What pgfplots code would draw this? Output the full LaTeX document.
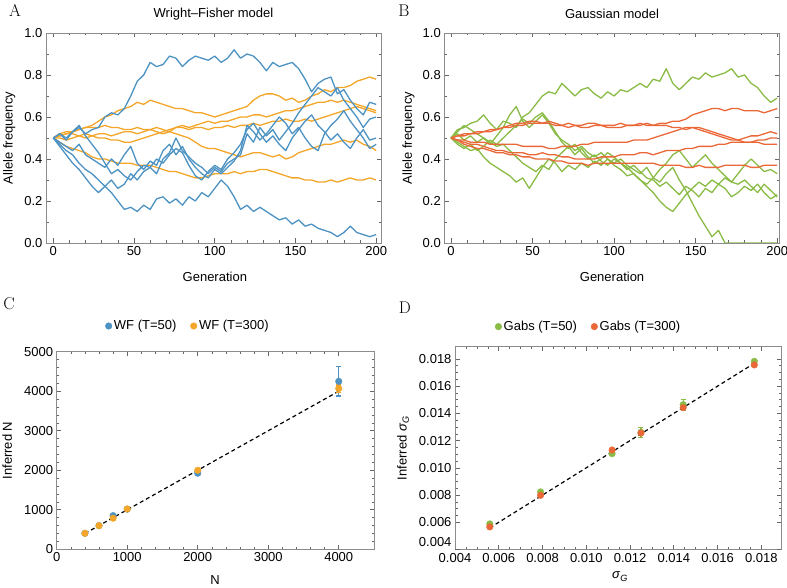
\documentclass[border=0pt]{standalone}
\usepackage{pgfplots}
\pgfplotsset{compat=1.18}
\usepackage{pgfplotstable}
\usepackage{fontspec}
\setsansfont{Liberation Sans}
\definecolor{cblue}{RGB}{76,146,194}
\definecolor{corange}{RGB}{243,166,41}
\definecolor{cgreen}{RGB}{137,187,69}
\definecolor{cred}{RGB}{234,104,56}
\newcommand{\lbl}{\sffamily\fontsize{13}{15}\selectfont}
\newcommand{\sig}{\textit{σ}\textsubscript{\textit{G}}}

\pgfplotstableread{
g b1 b2 b3 b4 b5 o1 o2 o3 o4 o5
0 .50 .50 .50 .50 .50 .50 .50 .50 .50 .50
4 .52 .47 .46 .48 .52 .51 .52 .51 .50 .48
8 .50 .44 .42 .46 .49 .52 .53 .52 .49 .46
12 .53 .42 .38 .44 .53 .53 .53 .52 .50 .45
16 .55 .38 .35 .47 .56 .54 .54 .51 .51 .44
20 .52 .35 .31 .42 .51 .55 .55 .52 .50 .43
24 .54 .33 .27 .40 .47 .56 .55 .51 .51 .41
28 .55 .30 .24 .38 .43 .58 .55 .50 .52 .40
32 .60 .27 .27 .36 .38 .60 .56 .50 .52 .40
36 .62 .24 .30 .40 .33 .61 .55 .49 .51 .39
40 .61 .20 .26 .37 .35 .63 .55 .49 .52 .38
44 .64 .16 .28 .42 .32 .64 .54 .48 .53 .38
48 .70 .17 .33 .46 .30 .65 .54 .48 .53 .38
52 .77 .15 .30 .38 .34 .67 .55 .49 .52 .37
56 .80 .18 .34 .35 .37 .66 .54 .50 .53 .37
60 .86 .16 .36 .39 .36 .68 .54 .51 .54 .37
64 .84 .21 .33 .37 .40 .67 .55 .52 .53 .36
68 .85 .22 .40 .44 .38 .66 .54 .53 .52 .35
72 .89 .19 .43 .47 .42 .65 .53 .54 .53 .34
76 .88 .21 .50 .42 .45 .64 .55 .55 .52 .34
80 .84 .18 .44 .46 .43 .64 .56 .55 .51 .33
84 .87 .22 .41 .40 .37 .63 .55 .54 .50 .32
88 .89 .20 .38 .36 .32 .62 .56 .55 .48 .31
92 .88 .24 .36 .33 .30 .62 .57 .55 .46 .31
96 .87 .22 .33 .31 .34 .61 .58 .54 .45 .32
100 .89 .26 .36 .35 .37 .60 .57 .55 .45 .33
104 .86 .30 .34 .33 .35 .61 .58 .55 .44 .33
108 .88 .27 .38 .36 .40 .62 .58 .56 .43 .33
112 .92 .22 .40 .39 .43 .63 .59 .55 .42 .34
116 .88 .16 .42 .44 .47 .64 .60 .56 .41 .33
120 .90 .18 .52 .56 .54 .65 .60 .56 .42 .34
124 .89 .15 .48 .53 .57 .68 .61 .57 .43 .34
128 .86 .17 .55 .49 .52 .70 .61 .56 .43 .35
132 .82 .15 .51 .52 .48 .71 .60 .57 .42 .35
136 .86 .13 .54 .56 .51 .71 .61 .58 .41 .34
140 .84 .11 .49 .60 .47 .70 .62 .58 .42 .33
144 .85 .12 .53 .57 .44 .68 .63 .59 .40 .32
148 .86 .09 .57 .52 .50 .69 .63 .58 .41 .31
152 .83 .11 .62 .55 .54 .67 .64 .58 .43 .31
156 .78 .08 .66 .50 .58 .68 .65 .59 .44 .30
160 .72 .09 .70 .46 .61 .70 .66 .58 .45 .30
164 .76 .07 .74 .44 .56 .71 .67 .59 .46 .29
168 .78 .06 .72 .52 .53 .73 .67 .60 .47 .29
172 .79 .05 .70 .56 .49 .72 .68 .61 .47 .30
176 .71 .03 .74 .59 .52 .74 .67 .62 .48 .29
180 .73 .05 .68 .63 .48 .74 .68 .63 .49 .30
184 .68 .08 .64 .58 .45 .75 .67 .64 .48 .31
188 .64 .05 .60 .54 .50 .77 .66 .65 .49 .30
192 .61 .04 .55 .50 .54 .78 .65 .64 .47 .30
196 .67 .03 .59 .45 .49 .79 .64 .63 .46 .31
200 .66 .04 .60 .47 .50 .78 .63 .62 .44 .30
}\tabA

\pgfplotstableread{
g g1 g2 g3 g4 g5 r1 r2 r3 r4 r5
0 .50 .50 .50 .50 .50 .50 .50 .50 .50 .50
4 .54 .48 .52 .53 .47 .51 .51 .49 .49 .49
8 .55 .46 .49 .56 .45 .51 .52 .49 .48 .47
12 .57 .44 .51 .54 .47 .52 .52 .48 .47 .46
16 .58 .45 .48 .52 .44 .52 .53 .48 .47 .45
20 .61 .41 .50 .50 .46 .53 .53 .48 .46 .45
24 .57 .38 .47 .48 .49 .53 .54 .47 .45 .44
28 .54 .36 .51 .46 .47 .54 .54 .47 .44 .43
32 .58 .34 .55 .47 .50 .55 .55 .47 .44 .43
36 .57 .32 .61 .44 .53 .55 .56 .47 .43 .42
40 .55 .29 .65 .41 .56 .56 .57 .47 .43 .42
44 .60 .31 .58 .38 .59 .56 .57 .46 .43 .41
48 .62 .26 .55 .36 .57 .57 .58 .46 .42 .41
52 .66 .31 .58 .34 .60 .57 .58 .46 .42 .40
56 .70 .36 .61 .37 .62 .57 .57 .46 .43 .40
60 .72 .40 .57 .35 .58 .57 .58 .45 .42 .40
64 .71 .38 .52 .40 .53 .56 .57 .45 .42 .39
68 .76 .34 .49 .43 .48 .56 .56 .46 .41 .39
72 .73 .37 .47 .46 .45 .57 .55 .46 .41 .38
76 .70 .35 .44 .42 .47 .56 .56 .46 .40 .38
80 .73 .38 .46 .45 .43 .56 .55 .47 .40 .38
84 .74 .36 .43 .41 .40 .57 .55 .47 .40 .37
88 .71 .39 .41 .38 .42 .57 .56 .48 .40 .38
92 .69 .37 .43 .40 .39 .56 .56 .48 .41 .38
96 .72 .40 .40 .43 .37 .56 .55 .48 .41 .38
100 .70 .37 .38 .41 .40 .56 .55 .48 .41 .38
104 .73 .35 .40 .38 .38 .57 .55 .48 .42 .38
108 .72 .32 .37 .36 .35 .56 .56 .48 .42 .38
112 .74 .33 .35 .33 .37 .56 .56 .49 .42 .38
116 .76 .30 .33 .30 .34 .57 .56 .49 .43 .38
120 .74 .27 .36 .28 .31 .56 .57 .49 .43 .38
124 .78 .24 .31 .31 .30 .56 .56 .50 .42 .38
128 .77 .20 .29 .35 .27 .57 .56 .51 .43 .37
132 .83 .17 .33 .38 .29 .57 .56 .52 .44 .37
136 .76 .15 .36 .42 .26 .58 .55 .53 .44 .37
140 .73 .19 .30 .44 .23 .58 .55 .54 .44 .37
144 .76 .23 .25 .40 .27 .59 .54 .55 .45 .36
148 .79 .26 .19 .36 .25 .61 .55 .55 .45 .36
152 .78 .29 .13 .39 .22 .62 .54 .55 .46 .37
156 .81 .27 .08 .42 .26 .63 .53 .54 .46 .36
160 .79 .30 .03 .38 .24 .64 .52 .53 .46 .36
164 .80 .28 .06 .35 .28 .64 .51 .52 .47 .36
168 .81 .26 .00 .32 .31 .63 .50 .51 .47 .37
172 .83 .22 .00 .29 .29 .64 .49 .50 .48 .37
176 .79 .24 .00 .33 .28 .64 .49 .49 .48 .37
180 .80 .27 .00 .37 .30 .63 .50 .48 .48 .37
184 .76 .25 .00 .40 .27 .63 .51 .48 .48 .36
188 .74 .28 .00 .37 .24 .63 .51 .48 .49 .36
192 .70 .24 .00 .34 .28 .62 .52 .47 .49 .37
196 .67 .21 .00 .35 .25 .63 .53 .47 .50 .37
200 .69 .23 .00 .33 .22 .64 .52 .47 .50 .37
}\tabB

\pgfplotsset{
  panel/.style={
    scale only axis,
    axis line style={black!45, line width=0.9pt},
    every tick/.style={black!60, line width=0.6pt},
    major tick length=4.5pt, minor tick length=2.5pt,
    tick align=inside,
    tick label style={font=\lbl},
    label style={font=\lbl},
    title style={font=\lbl},
    /pgf/number format/assume math mode=true,
    /pgf/number format/1000 sep={},
    scaled ticks=false,
  },
  walk/.style={line width=1.3pt, no markers, line join=round},
  dots/.style={only marks, mark=*, mark size=3.3pt},
  ebars/.style={error bars/.cd, y dir=both, y explicit,
    error bar style={line width=1.1pt},
    error mark options={rotate=90, mark size=2.5pt, line width=1.1pt}},
  fix1/.style={/pgf/number format/fixed, /pgf/number format/fixed zerofill, /pgf/number format/precision=1},
  fix3/.style={/pgf/number format/fixed, /pgf/number format/fixed zerofill, /pgf/number format/precision=3},
}

\begin{document}
\begin{tikzpicture}
\path[use as bounding box] (0,0) rectangle (787pt,588pt);

% ---------------- A ----------------
\begin{axis}[panel, at={(46pt,345pt)}, anchor=south west, width=335pt, height=210pt,
  xmin=-4.5, xmax=203, ymin=0, ymax=1,
  xtick={0,50,100,150,200}, minor x tick num=4,
  ytick={0,0.2,0.4,0.6,0.8,1}, minor y tick num=1,
  yticklabel style={fix1},
  title={Wright–Fisher model}, title style={at={(axis description cs:0.5,1.063)}, anchor=center},
  xlabel={Generation}, xlabel style={at={(axis description cs:0.504,-0.159)}, anchor=center},
  ylabel={Allele frequency}, ylabel style={at={(axis description cs:-0.11,0.5)}, anchor=center},
]
\addplot[walk, corange] table[x=g, y=o1] {\tabA};
\addplot[walk, corange] table[x=g, y=o2] {\tabA};
\addplot[walk, corange] table[x=g, y=o3] {\tabA};
\addplot[walk, corange] table[x=g, y=o4] {\tabA};
\addplot[walk, corange] table[x=g, y=o5] {\tabA};
\addplot[walk, cblue] table[x=g, y=b1] {\tabA};
\addplot[walk, cblue] table[x=g, y=b2] {\tabA};
\addplot[walk, cblue] table[x=g, y=b3] {\tabA};
\addplot[walk, cblue] table[x=g, y=b4] {\tabA};
\addplot[walk, cblue] table[x=g, y=b5] {\tabA};
\end{axis}

% ---------------- B ----------------
\begin{axis}[panel, at={(444.3pt,345pt)}, anchor=south west, width=335.5pt, height=210pt,
  xmin=-4.1, xmax=201.6, ymin=0, ymax=1,
  xtick={0,50,100,150,200}, minor x tick num=4,
  ytick={0,0.2,0.4,0.6,0.8,1}, minor y tick num=1,
  yticklabel style={fix1},
  title={Gaussian model}, title style={at={(axis description cs:0.5,1.063)}, anchor=center},
  xlabel={Generation}, xlabel style={at={(axis description cs:0.5,-0.159)}, anchor=center},
  ylabel={Allele frequency}, ylabel style={at={(axis description cs:-0.107,0.5)}, anchor=center},
]
\addplot[walk, cgreen] table[x=g, y=g1] {\tabB};
\addplot[walk, cgreen] table[x=g, y=g2] {\tabB};
\addplot[walk, cgreen] table[x=g, y=g3] {\tabB};
\addplot[walk, cgreen] table[x=g, y=g4] {\tabB};
\addplot[walk, cgreen] table[x=g, y=g5] {\tabB};
\addplot[walk, cred] table[x=g, y=r1] {\tabB};
\addplot[walk, cred] table[x=g, y=r2] {\tabB};
\addplot[walk, cred] table[x=g, y=r3] {\tabB};
\addplot[walk, cred] table[x=g, y=r4] {\tabB};
\addplot[walk, cred] table[x=g, y=r5] {\tabB};
\end{axis}

% ---------------- C ----------------
\begin{axis}[panel, at={(56.7pt,38.7pt)}, anchor=south west, width=317.3pt, height=197.6pt,
  xmin=0, xmax=4500, ymin=0, ymax=5000,
  xtick={0,1000,2000,3000,4000}, minor x tick num=4,
  ytick={0,1000,2000,3000,4000,5000}, minor y tick num=4,
  xlabel={N}, xlabel style={at={(axis description cs:0.499,-0.155)}, anchor=center},
  ylabel={Inferred N}, ylabel style={at={(axis description cs:-0.156,0.5)}, anchor=center},
  legend columns=2,
  legend style={draw=none, fill=none, at={(axis description cs:0.414,1.13)}, anchor=center,
    font=\lbl, /tikz/every even column/.append style={column sep=12pt}},
]
\addplot[black, line width=1.2pt, dash pattern=on 4pt off 3pt, forget plot] coordinates {(400,400) (4000,4000)};
\addplot[dots, cblue, ebars] coordinates {
 (400,405) +- (0,10)
 (600,600) +- (0,10)
 (800,852) +- (0,20)
 (1000,1015) +- (0,20)
 (2000,1925) +- (0,30)
 (4000,4250) +- (0,370)
};
\addlegendentry{WF (T=50)}
\addplot[dots, corange, ebars] coordinates {
 (400,405) +- (0,8)
 (600,598) +- (0,8)
 (800,786) +- (0,10)
 (1000,1020) +- (0,10)
 (2000,2000) +- (0,20)
 (4000,4068) +- (0,90)
};
\addlegendentry{WF (T=300)}
\end{axis}

% ---------------- D ----------------
\begin{axis}[panel, at={(455pt,38.5pt)}, anchor=south west, width=326pt, height=202.8pt,
  xmin=0.004, xmax=0.0189, ymin=0.004, ymax=0.0189,
  xtick={0.004,0.006,0.008,0.010,0.012,0.014,0.016,0.018}, minor x tick num=3,
  ytick={0.006,0.008,0.010,0.012,0.014,0.016,0.018}, minor y tick num=3,
  extra y ticks={0.004},
  extra y tick style={yticklabel style={yshift=7pt}},
  xticklabel style={fix3},
  yticklabel style={fix3},
  xlabel={\sig}, xlabel style={at={(axis description cs:0.506,-0.134)}, anchor=center},
  ylabel={Inferred \sig}, ylabel style={at={(axis description cs:-0.159,0.5)}, anchor=center},
  legend columns=2,
  legend style={draw=none, fill=none, at={(axis description cs:0.41,1.099)}, anchor=center,
    font=\lbl, /tikz/every even column/.append style={column sep=12pt}},
]
\addplot[black, line width=1.2pt, dash pattern=on 4pt off 3pt, forget plot] coordinates {(0.00559,0.00559) (0.01768,0.01768)};
\addplot[dots, cgreen, ebars] coordinates {
 (0.00559,0.00588) +- (0,0.0001)
 (0.00791,0.00823) +- (0,0.0001)
 (0.01118,0.01104) +- (0,0.00015)
 (0.01250,0.01261) +- (0,0.00036)
 (0.01443,0.01464) +- (0,0.0004)
 (0.01768,0.01782) +- (0,0.0001)
};
\addlegendentry{Gabs (T=50)}
\addplot[dots, cred] coordinates {
 (0.00559,0.00566)
 (0.00791,0.00798)
 (0.01118,0.01131)
 (0.01250,0.01256)
 (0.01443,0.01442)
 (0.01768,0.01756)
};
\addlegendentry{Gabs (T=300)}
\end{axis}

\node[font=\fontsize{17}{19}\selectfont] at (15pt,577pt) {A};
\node[font=\fontsize{17}{19}\selectfont] at (404pt,577pt) {B};
\node[font=\fontsize{17}{19}\selectfont] at (9pt,284pt) {C};
\node[font=\fontsize{17}{19}\selectfont] at (405pt,280pt) {D};
\end{tikzpicture}
\end{document}
